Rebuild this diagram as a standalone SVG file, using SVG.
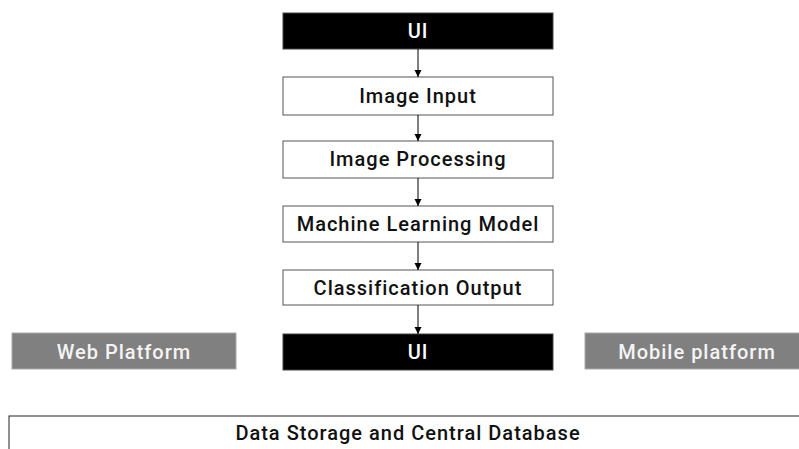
<svg xmlns="http://www.w3.org/2000/svg" width="799" height="449" viewBox="0 0 799 449">
<style>
text{font-family:Roboto,"Liberation Sans",Arial,sans-serif;font-weight:500;font-size:20px;letter-spacing:1px;text-anchor:middle}
.w rect{fill:#fff;stroke:#555;stroke-width:1}
.w text{fill:#111}
.b rect{fill:#000;stroke:#444;stroke-width:1}
.b text{fill:#fff}
.g rect{fill:#808080;stroke:#aaa;stroke-width:1}
.g text{fill:#f4f4f4}
#data-storage rect{stroke:#222}
#connectors line{stroke:#000;stroke-width:1;marker-end:url(#ah)}
</style>
<defs>
<marker id="ah" markerWidth="8" markerHeight="8" refX="7" refY="4" orient="auto" markerUnits="userSpaceOnUse">
<path d="M0,0.5 L7,4 L0,7.5 Z" fill="#000"/>
</marker>
</defs>
<rect width="799" height="449" fill="#fff"/>
<g id="ui-top" class="b"><rect x="283" y="13" width="270" height="36"/><text x="418" y="38">UI</text></g>
<g id="image-input" class="w"><rect x="283" y="77" width="270" height="38"/><text x="418" y="103">Image Input</text></g>
<g id="image-processing" class="w"><rect x="283" y="141" width="270" height="37"/><text x="418" y="166">Image Processing</text></g>
<g id="ml-model" class="w"><rect x="283" y="206" width="270" height="36"/><text x="418" y="231">Machine Learning Model</text></g>
<g id="classification-output" class="w"><rect x="283" y="270" width="270" height="35"/><text x="418" y="295">Classification Output</text></g>
<g id="ui-bottom" class="b"><rect x="283" y="334" width="270" height="36"/><text x="418" y="359">UI</text></g>
<g id="web-platform" class="g"><rect x="12" y="333" width="224" height="36"/><text x="124" y="359">Web Platform</text></g>
<g id="mobile-platform" class="g"><rect x="585" y="333" width="224" height="36"/><text x="697" y="359">Mobile platform</text></g>
<g id="data-storage" class="w"><rect x="9" y="416" width="800" height="50"/><text x="408" y="440">Data Storage and Central Database</text></g>
<g id="connectors">
<line x1="418" y1="49" x2="418" y2="77"/>
<line x1="418" y1="115" x2="418" y2="141"/>
<line x1="418" y1="178" x2="418" y2="206"/>
<line x1="418" y1="242" x2="418" y2="270"/>
<line x1="418" y1="305" x2="418" y2="334"/>
</g>
</svg>
